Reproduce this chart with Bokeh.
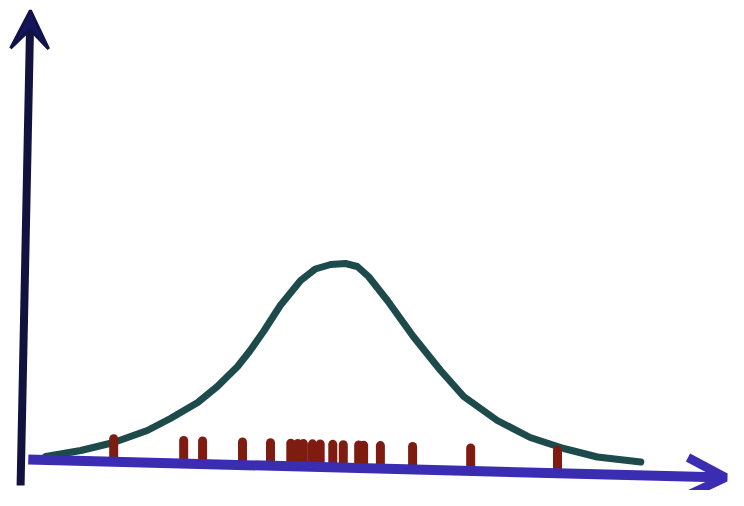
from bokeh.plotting import figure
from bokeh.models import Range1d, Arrow, OpenHead, VeeHead, ColumnDataSource
from bokeh.embed import file_html
from bokeh.resources import INLINE

# density curve
curve_x = [-4.21, -3.71, -3.24, -2.76, -2.43, -2.04, -1.76, -1.47, -1.29, -1.10,
           -0.86, -0.57, -0.36, -0.14, 0.07, 0.24, 0.40, 0.67, 1.04, 1.43,
           1.76, 2.24, 2.71, 3.19, 3.67, 4.29]
curve_y = [0.012, 0.024, 0.040, 0.064, 0.088, 0.120, 0.152, 0.192, 0.224, 0.262,
           0.314, 0.364, 0.387, 0.396, 0.398, 0.392, 0.372, 0.324, 0.252, 0.184,
           0.132, 0.084, 0.050, 0.028, 0.011, 0.001]

# observations (rug)
rug_x = [-3.24, -2.24, -1.97, -1.40, -1.00, -0.71, -0.61, -0.53, -0.40, -0.29,
         -0.11, 0.04, 0.26, 0.33, 0.57, 1.03, 1.86, 3.10]

# axis geometry (styling)
XA_START = (-4.46, 0.006)
XA_END = (5.50, -0.030)
YA_START = (-4.57, -0.046)
YA_END = (-4.43, 0.904)

p = figure(width=728, height=490, output_backend="svg", toolbar_location=None,
           x_range=Range1d(-4.857, 5.543), y_range=Range1d(-0.056, 0.924),
           min_border=0, background_fill_color="white", border_fill_color="white")
p.axis.visible = False
p.grid.visible = False
p.outline_line_color = None

# y axis
p.add_layout(Arrow(x_start=YA_START[0], y_start=YA_START[1], x_end=YA_END[0], y_end=YA_END[1],
                   line_color="#12123f", line_width=8,
                   end=VeeHead(size=38, fill_color="#15155c", line_color="#12124a", line_width=3)))

# x axis
p.add_layout(Arrow(x_start=XA_START[0], y_start=XA_START[1], x_end=XA_END[0], y_end=XA_END[1],
                   line_color="#3a2db2", line_width=10,
                   end=OpenHead(size=38, line_color="#3a2db2", line_width=9)))

# curve
p.line(curve_x, curve_y, line_color="#1d4a4b", line_width=7, line_join="round", line_cap="round")

# rug
slope = (XA_END[1] - XA_START[1]) / (XA_END[0] - XA_START[0])
base = [XA_START[1] + slope * (x - XA_START[0]) + 0.004 for x in rug_x]
top = [b + 0.042 for b in base]
src = ColumnDataSource(dict(x=rug_x, y0=base, y1=top))
p.segment(x0="x", y0="y0", x1="x", y1="y1", source=src, line_color="#7f1c12",
          line_width=9, line_cap="round")

open("out.html", "w").write(file_html(p, INLINE))
